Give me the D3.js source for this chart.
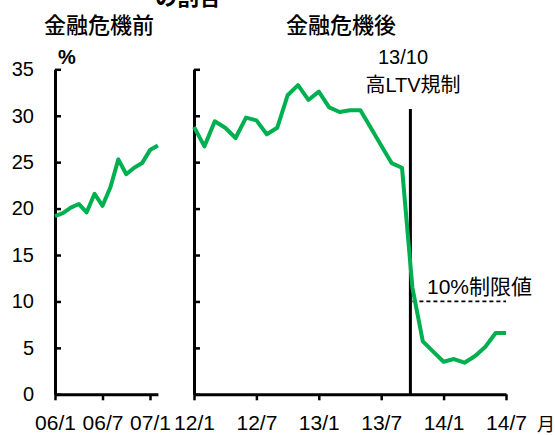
<!DOCTYPE html>
<html><head><meta charset="utf-8">
<script src="https://cdn.jsdelivr.net/npm/d3@7"></script>
<style>
html,body{margin:0;padding:0;background:#fff;}
text{font-family:"Liberation Sans","Noto Sans CJK JP",sans-serif;fill:#000;}
.cjk{font-family:"Noto Sans CJK JP","Liberation Sans",sans-serif;}
</style></head>
<body>
<svg id="c" width="555" height="435"></svg>
<script>
const leftMonths = ["06/1","06/2","06/3","06/4","06/5","06/6","06/7","06/8","06/9","06/10","06/11","06/12","07/1","07/2"];
const leftValues = [19.2,19.5,20.1,20.5,19.6,21.6,20.3,22.3,25.3,23.7,24.4,24.9,26.3,26.8];
const rightMonths = ["12/1","12/2","12/3","12/4","12/5","12/6","12/7","12/8","12/9","12/10","12/11","12/12",
  "13/1","13/2","13/3","13/4","13/5","13/6","13/7","13/8","13/9","13/10","13/11","13/12",
  "14/1","14/2","14/3","14/4","14/5","14/6","14/7"];
const rightValues = [28.8,26.7,29.4,28.7,27.6,29.8,29.5,28.0,28.7,32.2,33.3,31.7,
  32.6,30.9,30.4,30.6,30.6,28.7,26.8,24.9,24.4,11.5,5.7,4.6,
  3.5,3.8,3.4,4.1,5.1,6.6,6.6];
const leftTicks = ["06/1","06/7","07/1"];
const rightTicks = ["12/1","12/7","13/1","13/7","14/1","14/7"];
const yTicks = [0,5,10,15,20,25,30,35];
const regMonth = "13/10";
const limitValue = 10;
const limitRange = ["13/10","14/7"];

const svg = d3.select("#c");
const y = d3.scaleLinear().domain([0,35]).range([394.3,69.3]);
const xL = d3.scalePoint().domain(leftMonths).range([55, 55 + 13*7.917]);
const xR = d3.scalePoint().domain(rightMonths).range([194, 506]);
const green = "#00B050";

function yAxis(x0, labels){
  const g = svg.append("g").attr("transform",`translate(${x0},0)`)
    .call(d3.axisLeft(y).tickValues(yTicks).tickSize(-6).tickSizeOuter(0).tickPadding(21)
      .tickFormat(labels ? d3.format("d") : ""));
  g.select(".domain").attr("stroke","#000").attr("stroke-width",3);
  g.selectAll(".tick line").attr("stroke","#000").attr("stroke-width",2.5);
  g.selectAll(".tick text").attr("font-size",20).attr("fill","#000").attr("font-family","Liberation Sans");
}
function xAxis(scale, ticks){
  const g = svg.append("g").attr("transform",`translate(0,${y(0)})`)
    .call(d3.axisBottom(scale).tickValues(ticks).tickSize(6).tickSizeOuter(0).tickPadding(15));
  g.select(".domain").attr("stroke","#000").attr("stroke-width",3);
  g.selectAll(".tick line").attr("stroke","#000").attr("stroke-width",2.5);
  g.selectAll(".tick text").attr("font-size",21).attr("fill","#000").attr("font-family","Liberation Sans");
}
xAxis(xL, leftTicks);
xAxis(xR, rightTicks);
yAxis(xL(leftMonths[0]), true);
yAxis(xR(rightMonths[0]), false);

// regulation vertical line
const xr = xR(regMonth) - 2;
svg.append("line").attr("x1",xr).attr("x2",xr).attr("y1",109).attr("y2",y(0))
  .attr("stroke","#000").attr("stroke-width",3);
// 10% limit dashed
svg.append("line").attr("x1",xR(limitRange[0])).attr("x2",xR(limitRange[1]))
  .attr("y1",y(limitValue)).attr("y2",y(limitValue))
  .attr("stroke","#000").attr("stroke-width",1.8).attr("stroke-dasharray","4,3");

const line = (xs, months) => d3.line().x((d,i)=>xs(months[i])).y(d=>y(d));
svg.append("path").datum(leftValues).attr("d", line(xL,leftMonths))
  .attr("fill","none").attr("stroke",green).attr("stroke-width",4).attr("stroke-linejoin","round");
svg.append("path").datum(rightValues).attr("d", line(xR,rightMonths))
  .attr("fill","none").attr("stroke",green).attr("stroke-width",4).attr("stroke-linejoin","round");

// texts
svg.append("text").attr("class","cjk").attr("x",188).attr("y",5).attr("text-anchor","middle")
  .attr("font-size",22).attr("font-weight",700).text("の割合");
svg.append("text").attr("class","cjk").attr("x",99).attr("y",33).attr("text-anchor","middle")
  .attr("font-size",22).attr("font-weight",500).text("金融危機前");
svg.append("text").attr("class","cjk").attr("x",341).attr("y",33).attr("text-anchor","middle")
  .attr("font-size",22).attr("font-weight",500).text("金融危機後");
svg.append("text").attr("x",67).attr("y",64).attr("text-anchor","middle")
  .attr("font-size",20).attr("font-weight",700).text("%");
svg.append("text").attr("x",403).attr("y",64).attr("text-anchor","middle")
  .attr("font-size",20).text("13/10");
svg.append("text").attr("x",413).attr("y",92).attr("text-anchor","middle")
  .attr("font-size",20).text("高LTV規制");
svg.append("text").attr("x",427).attr("y",294).attr("text-anchor","start")
  .attr("font-size",21).text("10%制限値");
svg.append("text").attr("class","cjk").attr("x",537).attr("y",431).attr("text-anchor","start")
  .attr("font-size",18).text("月");
</script>
</body></html>
